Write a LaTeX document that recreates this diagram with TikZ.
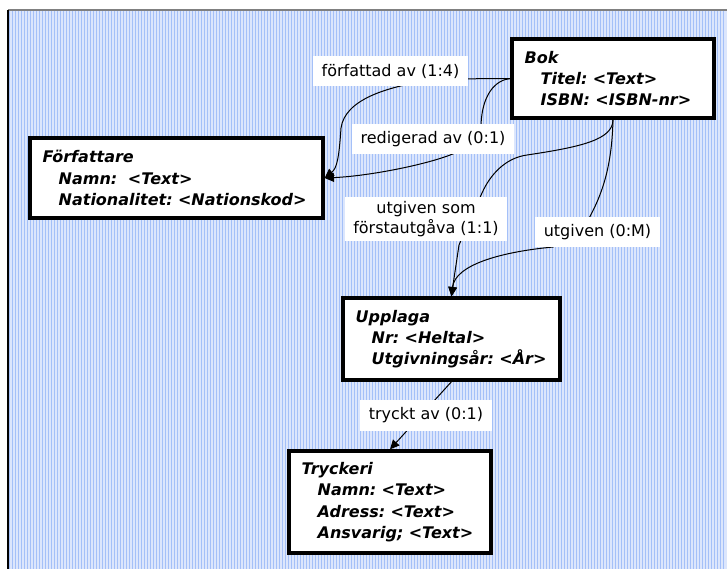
\documentclass[tikz,border=0pt]{standalone}
\usepackage{fontspec}
\setmainfont{DejaVu Sans}
\usetikzlibrary{arrows.meta}

\definecolor{paleblue}{RGB}{220,230,252}
\definecolor{stripeblue}{RGB}{164,192,248}
\definecolor{framegray}{RGB}{128,128,128}

\pgfdeclarelayer{back}
\pgfdeclarelayer{wires}
\pgfsetlayers{back,wires,main}

\newcommand{\attrline}[1]{\hspace*{1em}\mbox{#1}}

\tikzset{
	entity/.style={draw, line width=2.5pt, fill=white, align=left, inner xsep=9.5pt,
		font=\fontsize{12}{16}\selectfont\bfseries\itshape\frenchspacing},
	rellabel/.style={fill=white, align=center, inner xsep=6.5pt, inner ysep=3pt,
		minimum height=23pt, font=\fontsize{12}{15}\selectfont},
	link/.style={line width=0.75pt, -{Triangle[length=7pt,width=6.5pt]}}
}

\begin{document}
\begin{tikzpicture}[x=0.75pt, y=-0.75pt]
	\useasboundingbox (0,0) rectangle (727,569);

	% striped page behind everything
	\begin{pgfonlayer}{back}
		\fill[paleblue] (8,10) rectangle (727,569);
		\foreach \x in {9.5,12.5,...,726}
			\draw[stripeblue, line width=0.75pt] (\x,10) -- (\x,569);
		\draw[framegray, line width=1.5pt] (8,10) -- (727,10);
		\draw[black, line width=1.5pt] (8,10) -- (8,569);
	\end{pgfonlayer}

	\node[entity, text width=132.5pt, minimum height=59.25pt] (bok) at (613,78.5)
		{Bok\\\attrline{Titel: <Text>}\\\attrline{ISBN: <ISBN-nr>}};
	\node[entity, text width=200.75pt, minimum height=60pt] (forf) at (176.5,178)
		{Författare\\\attrline{Namn:\ \ <Text>}\\\attrline{Nationalitet: <Nationskod>}};
	\node[entity, text width=143.75pt, minimum height=61.5pt] (upp) at (451.5,339)
		{Upplaga\\\attrline{Nr: <Heltal>}\\\attrline{Utgivningsår: <År>}};
	\node[entity, text width=132.5pt, minimum height=76.5pt] (tryck) at (390,502)
		{Tryckeri\\\attrline{Namn: <Text>}\\\attrline{Adress: <Text>}\\\attrline{Ansvarig; <Text>}};

	\node[rellabel] (forfattad) at (390.5,71) {författad av (1:4)};
	\node[rellabel] (redigerad) at (433,139) {redigerad av (0:1)};
	\node[rellabel] (forsta) at (426,219) {utgiven som\\förstautgåva (1:1)};
	\node[rellabel] (utgiven) at (597.5,232) {utgiven (0:M)};
	\node[rellabel] (tryckt) at (426,415.5) {tryckt av (0:1)};

	% connectors run under the labels
	\begin{pgfonlayer}{wires}
		\draw[link] (bok.west) -- (440,79) .. controls (385,86) and (345,100) .. (341,128)
			.. controls (339,158) and (337,168) .. (forf.east);
		\draw[link] (bok.west) .. controls (495,80) and (482,95) .. (481,125) -- (455,153)
			.. controls (430,164) and (370,176) .. (forf.east);
		\draw[link] (bok.south) .. controls (613,140) and (580,147) .. (527,155)
			.. controls (505,158) and (490,175) .. (482,193) -- (459,245)
			.. controls (456,265) and (453,285) .. (upp.north);
		\draw[link] (bok.south) .. controls (612,160) and (605,190) .. (588,220) -- (553,247)
			.. controls (500,252) and (455,265) .. (upp.north);
		\draw[link] (upp.south) -- (tryck.north);
	\end{pgfonlayer}
\end{tikzpicture}
\end{document}
